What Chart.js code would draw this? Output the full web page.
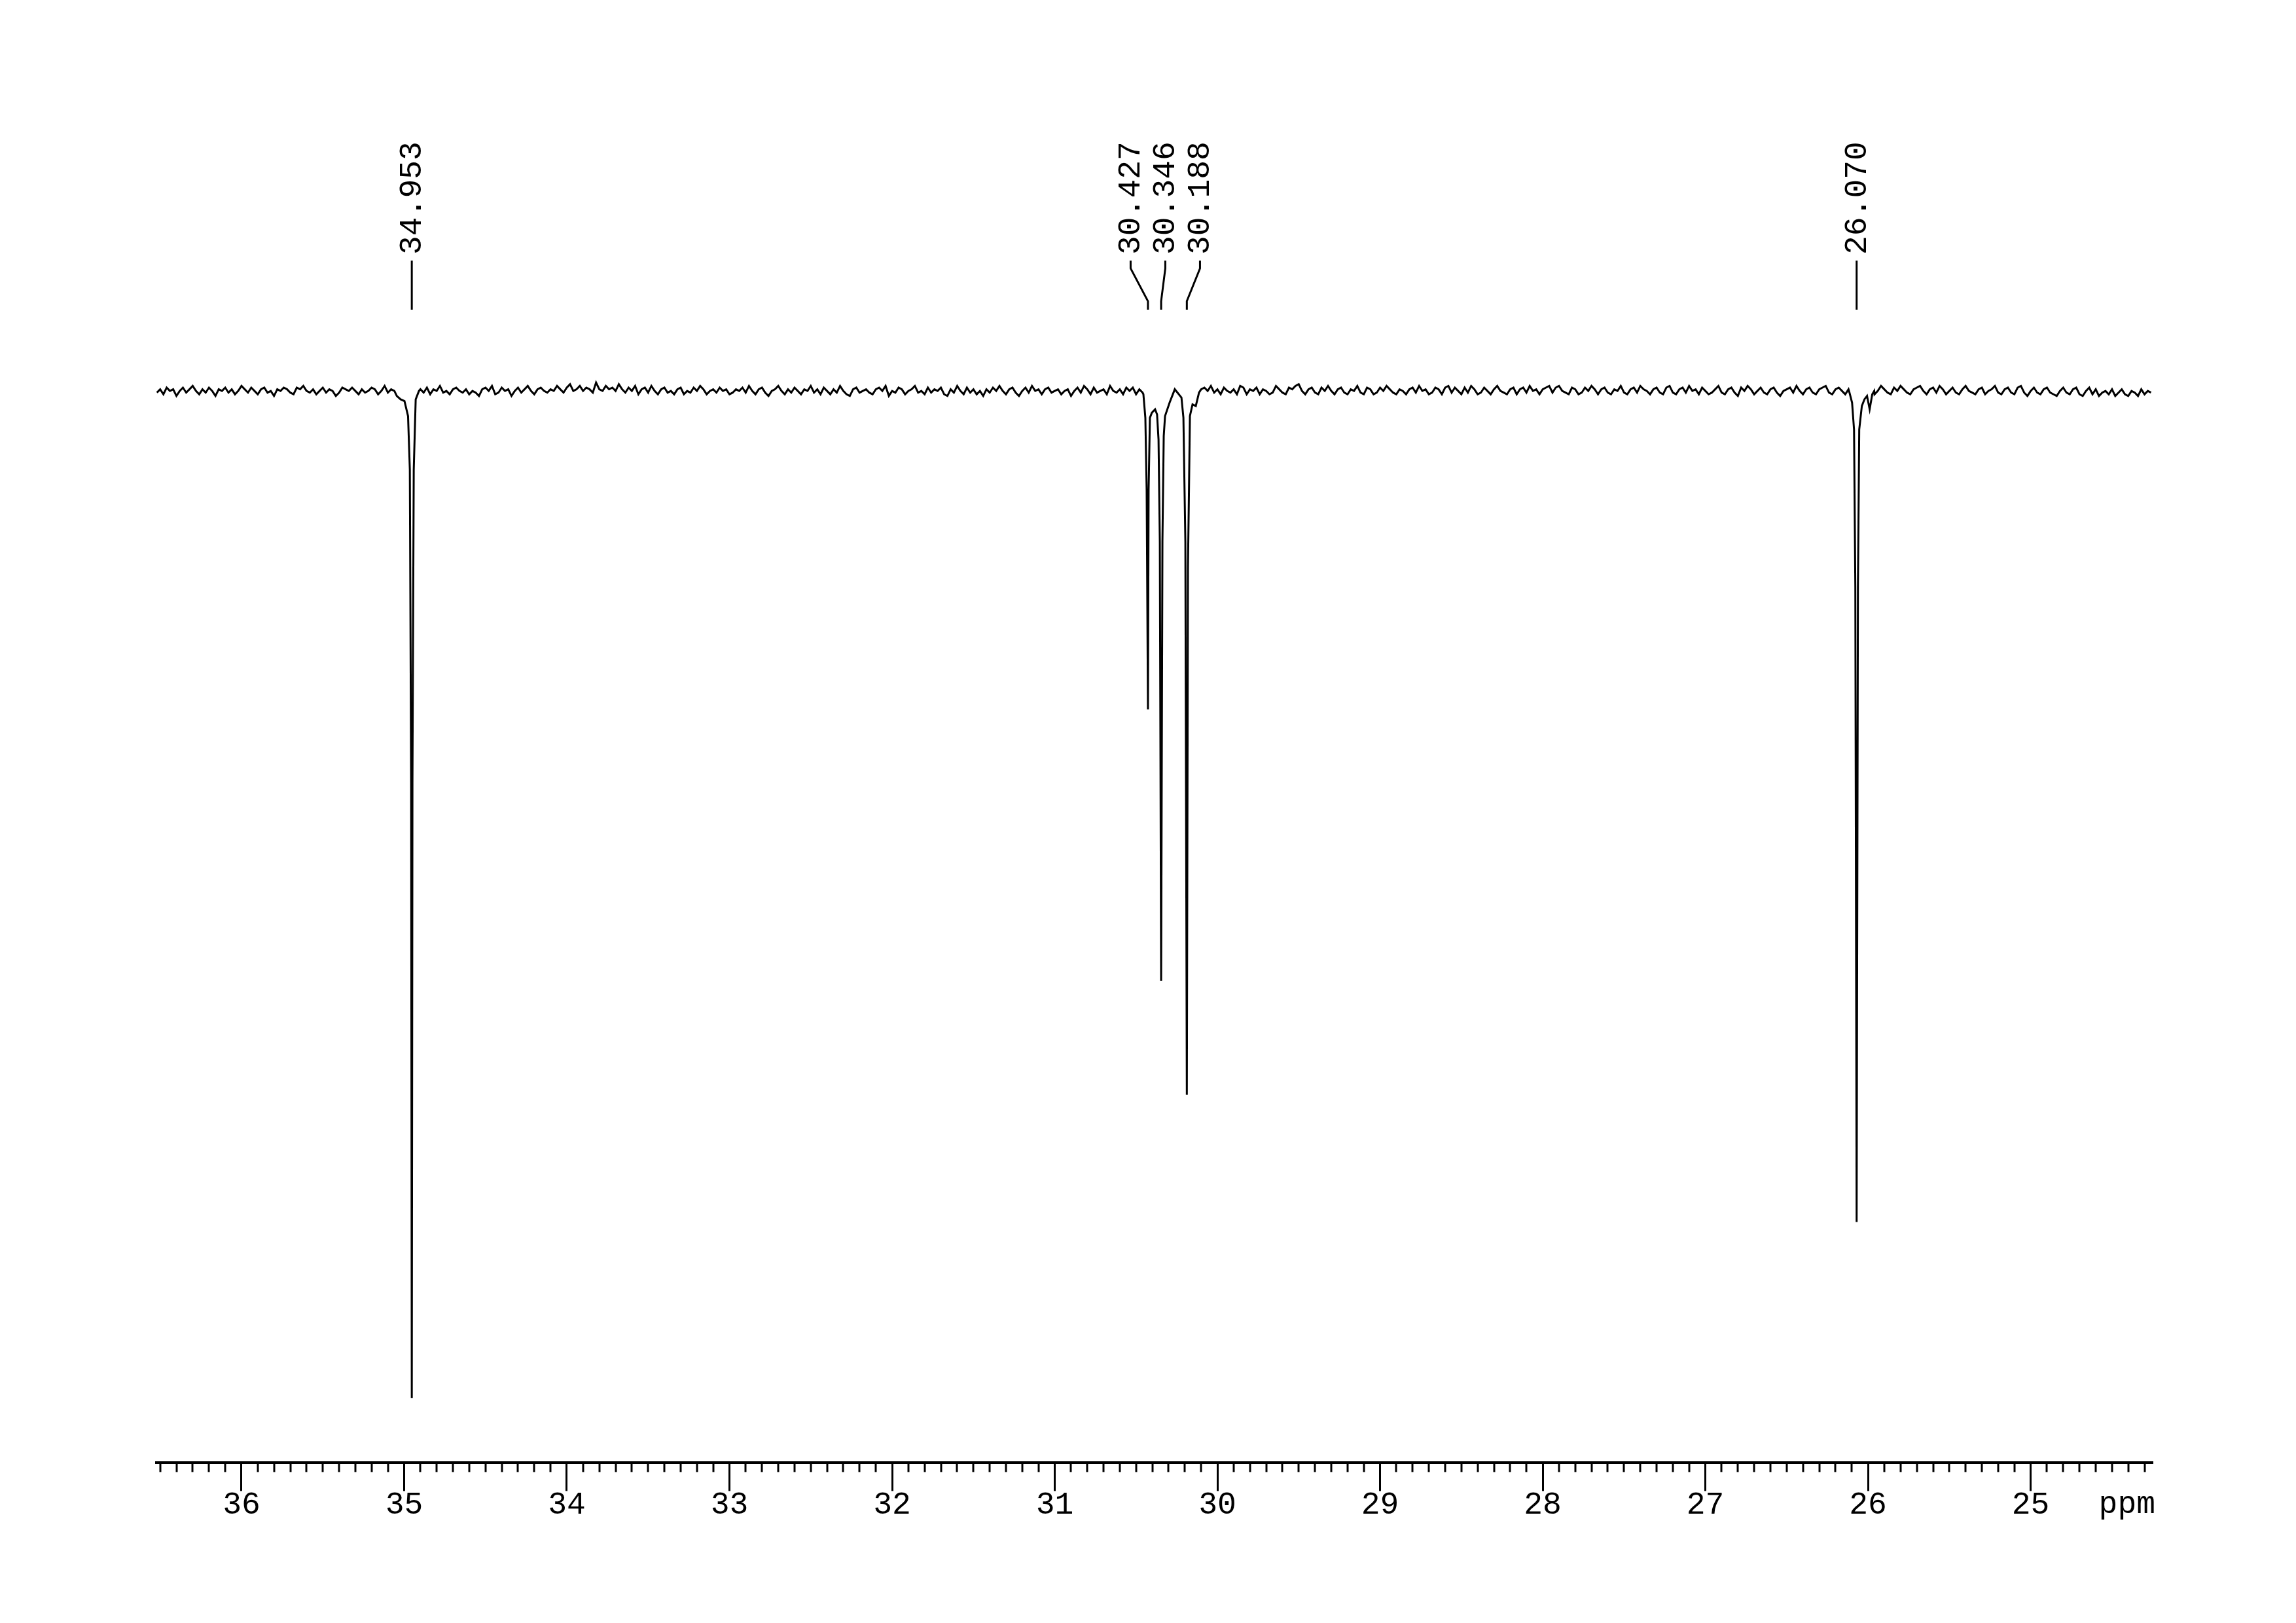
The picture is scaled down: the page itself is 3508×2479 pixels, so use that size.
<!DOCTYPE html>
<html>
<head>
<meta charset="utf-8">
<title>13C spectrum</title>
<script src="https://cdn.jsdelivr.net/npm/chart.js@4.4.1/dist/chart.umd.min.js"></script>
<style>
  html, body { margin: 0; padding: 0; background: #fff; }
  canvas { display: block; }
</style>
</head>
<body>
<canvas id="spectrum" width="3508" height="2479"></canvas>
<script>
// x axis range in ppm (drawn high -> low)
const ppmMax = 36.523;
const ppmMin = 24.25;
const majorTicks = [36, 35, 34, 33, 32, 31, 30, 29, 28, 27, 26, 25];
const minorStep = 0.1;

// baseline noise, one reading every 0.02 ppm from 36.52 down
const baseStart = 36.52;
const baseStep = 0.02;
const baseline = [
  0, 2, -1, 3, 1, 2, -2, 1, 3, 0, 2, 4, 1, -1, 2, 0, 3, 1, -2, 2,
  1, 3, 0, 2, -1, 1, 4, 2, 0, 3, 1, -1, 2, 3, 0, 1, -2, 2, 1, 3,
  2, 0, -1, 3, 2, 4, 1, 0, 2, -1, 1, 3, 0, 2, 1, -2, 0, 3, 2, 1,
  3, 1, -1, 2, 0, 1, 3, 2, -1, 1, 4, 0, 2, 1, -1, 3, 2, 0, 2, -2,
  1, 2, 0, 3, -1, 2, 1, 4, 0, 1, -1, 2, 3, 1, 0, 2, -1, 1, 0, -2,
  2, 3, 1, 4, -1, 0, 3, 1, 2, -2, 1, 3, 0, 2, 4, 1, -1, 2, 3, 1,
  0, 2, 1, 4, 2, 0, 3, 5, 1, 2, 4, 1, 3, 2, 0, 6, 2, 1, 4, 2,
  3, 1, 5, 2, 0, 3, 1, 4, -1, 2, 3, 0, 4, 1, -1, 2, 3, 0, 1, -1,
  2, 3, -1, 1, 0, 3, 1, 4, 2, -1, 1, 2, 0, 3, 1, 2, -1, 0, 2, 1,
  3, 0, 4, 1, -1, 2, 3, 0, -2, 1, 2, 4, 1, -1, 2, 0, 3, 1, -1, 2,
  1, 4, 0, 2, -1, 3, 1, -1, 2, 0, 4, 1, -1, -2, 2, 3, 0, 1, 2, 0,
  -1, 2, 3, 1, 4, -2, 1, 0, 3, 2, -1, 1, 2, 4, 0, 1, -1, 3, 0, 2,
  1, 3, -1, -2, 2, 0, 4, 1, -1, 3, 0, 2, -1, 1, -2, 2, 0, 3, 1, 4,
  1, -1, 2, 3, 0, -2, 1, 3, 0, 4, 1, 2, -1, 2, 3, 0, 1, 2, -1, 1,
  2, -2, 1, 3, 0, 4, 2, -1, 3, 0, 1, 2, -1, 4, 1, 0, 2, -1, 3, 1,
  3, -1, 2, 0, 2, 1, 3, -1, 0, 2, 1, 4, 0, -1, 3, 2, -1, 0, 3, 2,
  -1, 2, 3, 1, 4, 0, 2, -1, 3, 1, 0, 2, -1, 4, 3, -1, 2, 1, 3, -1,
  2, 1, -1, 0, 4, 2, 0, -1, 3, 2, 4, 5, 1, -1, 2, 3, 0, -1, 3, 1,
  4, 1, -1, 2, 3, 0, -1, 2, 1, 4, 0, -1, 3, 2, -1, 0, 3, 1, 4, 2,
  0, -1, 2, 1, -1, 2, 3, 0, 4, 1, 2, -1, 0, 3, 2, -1, 3, 4, 0, 3,
  1, -1, 3, 0, 4, 2, -1, 0, 3, 1, -1, 2, 4, 1, 0, -1, 2, 3, -1, 2,
  3, 0, 4, 1, 2, -1, 2, 3, 4, 0, 3, 4, 1, 0, -1, 3, 2, -1, 0, 3,
  1, 4, 2, -1, 2, 3, 0, -1, 2, 1, 4, 0, -1, 2, 3, 0, 4, 2, 1, -1,
  2, 3, 0, -1, 3, 4, 0, -1, 2, 3, 0, 4, 1, 2, -1, 3, 1, -1, 0, 2,
  4, 0, -1, 2, 3, 0, -2, 3, 1, 4, 2, -1, 1, 3, 0, -1, 2, 3, 0, -2,
  1, 2, 3, 0, 4, 1, -1, 2, 3, 0, -1, 2, 3, 4, 0, -1, 2, 3, 1, -1,
  2, 3, 0, -1, 3, 4, 0, 2, -1, 1, 4, 2, 0, -1, 3, 1, 4, 2, 0, -1,
  2, 3, 4, 1, -1, 2, 3, 0, 4, 2, -1, 1, 3, 0, -1, 2, 4, 1, 0, -1,
  2, 3, -1, 1, 2, 4, 0, -1, 2, 3, 0, -1, 3, 4, 0, -2, 1, 3, 0, -1,
  2, 3, 0, -1, -2, 1, 3, 0, -1, 2, 3, -1, -2, 1, 3, -1, 2, -2, 0, 1,
  -1, 2, -2, 0, 2, -1, -2, 1, 0, -2, 2, -1, 1, 0
];

// picked peaks (labels above the trace)
const peakShift = [34.953, 30.427, 30.346, 30.188, 26.070];

// trace read around each line
const lineAShift = [35.045, 35.022, 34.998, 34.976, 34.965, 34.957, 34.953, 34.949, 34.941, 34.929, 34.909];
const lineAValue = [-2, -4, -5, -14, -46, -233, -600, -233, -46, -4, 1];

const groupShift = [30.455, 30.443, 30.435, 30.427, 30.423, 30.415, 30.403, 30.383, 30.371, 30.362,
  30.354, 30.346, 30.338, 30.330, 30.322, 30.294, 30.262, 30.221, 30.209, 30.197,
  30.188, 30.181, 30.169, 30.153, 30.133, 30.113];
const groupValue = [-1, -15, -58, -189, -58, -15, -12, -10, -13, -28,
  -89, -351, -89, -26, -14, -6, 2, -3, -15, -89,
  -419, -104, -14, -7, -8, 0];

const lineBShift = [26.114, 26.098, 26.086, 26.078, 26.070, 26.062, 26.054, 26.038, 26.022, 26.006, 25.990, 25.974, 25.962];
const lineBValue = [0, -6, -22, -116, -495, -116, -22, -8, -4, -2, -10, -1, 1];

// ---- build the trace ----
const regions = [[lineAShift, lineAValue], [groupShift, groupValue], [lineBShift, lineBValue]];
const points = [];
baseline.forEach((v, i) => {
    const x = +(baseStart - i * baseStep).toFixed(3);
    const inside = regions.some(([s]) => x <= Math.max(...s) && x >= Math.min(...s));
    if (!inside) points.push({ x: x, y: v });
});
regions.forEach(([s, v]) => s.forEach((x, i) => points.push({ x: x, y: v[i] })));
points.sort((a, b) => b.x - a.x);

const tickValues = [];
for (let i = Math.ceil(ppmMin / minorStep); i <= Math.floor(ppmMax / minorStep); i++) {
    tickValues.push(+(i * minorStep).toFixed(1));
}
const isMajor = v => majorTicks.some(m => Math.abs(m - v) < 1e-6);

const FONT = '"Liberation Mono", "Courier New", monospace';

// minor ticks, unit label, peak labels
const nmrDecor = {
    id: 'nmrDecor',
    afterDraw(chart) {
        const ctx = chart.ctx;
        const xs = chart.scales.x;
        const area = chart.chartArea;
        ctx.save();
        ctx.strokeStyle = '#000';
        ctx.fillStyle = '#000';

        ctx.lineWidth = 3;
        xs.ticks.forEach(t => {
            if (isMajor(t.value)) return;
            const px = Math.round(xs.getPixelForValue(t.value));
            ctx.beginPath();
            ctx.moveTo(px, area.bottom);
            ctx.lineTo(px, area.bottom + 14);
            ctx.stroke();
        });

        ctx.font = '48px ' + FONT;
        ctx.textAlign = 'right';
        ctx.textBaseline = 'top';
        ctx.fillText('ppm', area.right + 4, area.bottom + 40);

        // group close peaks and spread their labels
        const gap = 53;
        const groups = [];
        peakShift.forEach((v, i) => {
            const p = xs.getPixelForValue(v);
            const g = groups[groups.length - 1];
            if (g && p - g[g.length - 1].p < gap) g.push({ p, i });
            else groups.push([{ p, i }]);
        });
        ctx.lineWidth = 3;
        groups.forEach(g => {
            const mid = g.reduce((s, o) => s + o.p, 0) / g.length;
            g.forEach((o, k) => {
                const lx = g.length === 1 ? o.p : mid + (k - (g.length - 1) / 2) * gap;
                ctx.beginPath();
                ctx.moveTo(lx, 398);
                if (g.length > 1) {
                    ctx.lineTo(lx, 410);
                    ctx.lineTo(o.p, 460);
                }
                ctx.lineTo(o.p, 473);
                ctx.stroke();

                ctx.save();
                ctx.translate(lx + 14, 389);
                ctx.rotate(-Math.PI / 2);
                ctx.textAlign = 'left';
                ctx.textBaseline = 'alphabetic';
                ctx.fillText(peakShift[o.i].toFixed(3), 0, 0);
                ctx.restore();
            });
        });
        ctx.restore();
    }
};

new Chart(document.getElementById('spectrum'), {
    type: 'line',
    data: {
        datasets: [{
            data: points,
            borderColor: '#000',
            borderWidth: 3,
            pointRadius: 0,
            tension: 0,
            fill: false
        }]
    },
    options: {
        responsive: false,
        devicePixelRatio: 1,
        animation: false,
        parsing: true,
        layout: { padding: { left: 239, right: 219, top: 300, bottom: 158 } },
        plugins: {
            legend: { display: false },
            tooltip: { enabled: false },
            title: { display: false }
        },
        scales: {
            x: {
                type: 'linear',
                reverse: true,
                min: ppmMin,
                max: ppmMax,
                afterBuildTicks: s => { s.ticks = tickValues.map(v => ({ value: v })); },
                grid: {
                    drawOnChartArea: false,
                    drawTicks: true,
                    tickLength: 43,
                    tickWidth: 3,
                    tickColor: c => (c.tick && isMajor(c.tick.value)) ? '#000' : 'rgba(0,0,0,0)'
                },
                border: { display: true, color: '#000', width: 4 },
                ticks: {
                    autoSkip: false,
                    maxRotation: 0,
                    padding: -7,
                    color: '#000',
                    font: { family: FONT, size: 48 },
                    callback: v => isMajor(v) ? String(Math.round(v)) : ''
                }
            },
            y: {
                display: false,
                min: -638.7,
                max: 117.1
            }
        }
    },
    plugins: [nmrDecor]
});
</script>
</body>
</html>
